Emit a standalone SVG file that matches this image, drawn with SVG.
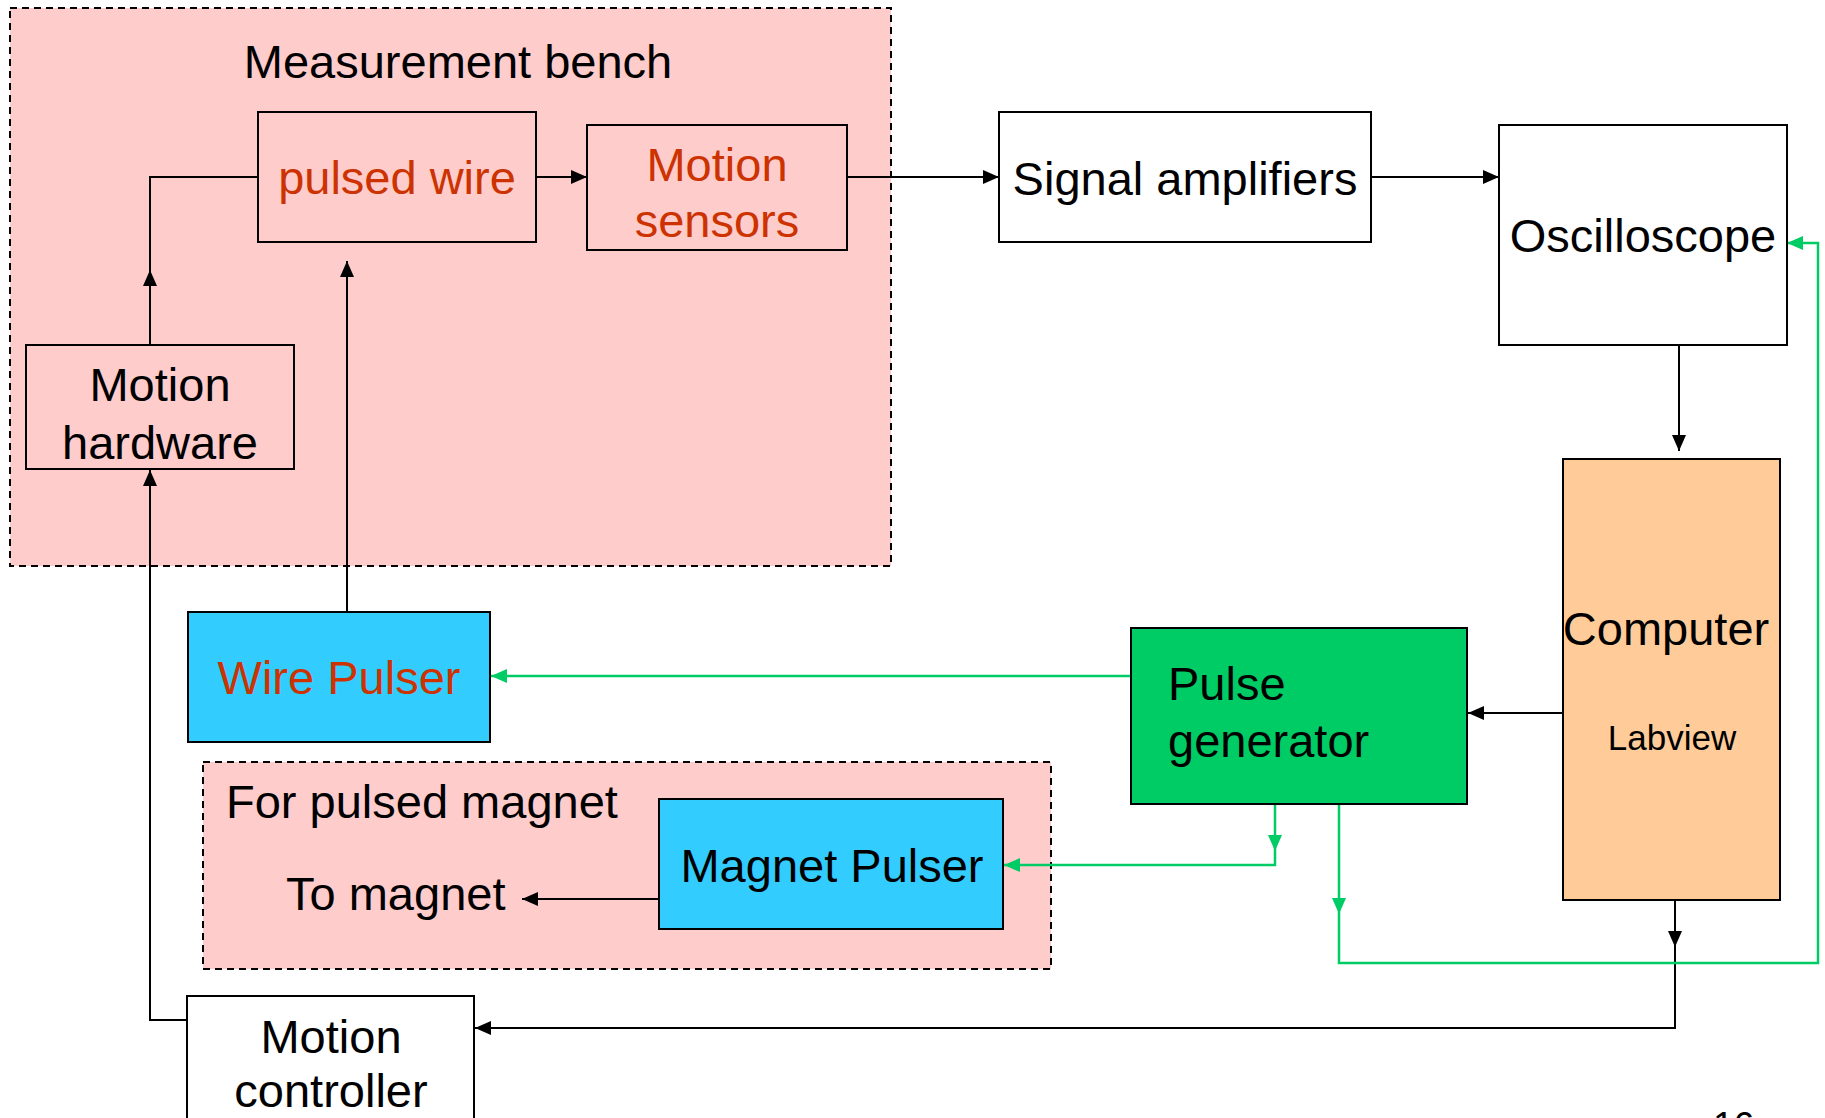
<svg xmlns="http://www.w3.org/2000/svg" width="1825" height="1118" viewBox="0 0 1825 1118">
<style>
text{font-family:"Liberation Sans",Arial,sans-serif;font-size:47px;fill:#000}
.red{fill:#CC3300}
.box{stroke:#000;stroke-width:2}
.grp{fill:#FFCCCC;stroke:#000;stroke-width:2;stroke-dasharray:7 5}
.blk{fill:none;stroke:#000;stroke-width:2}
.grn{fill:none;stroke:#00CC66;stroke-width:2.5}
</style>
<defs>
<marker id="ab" markerUnits="userSpaceOnUse" markerWidth="16" markerHeight="14" refX="16" refY="7" orient="auto"><path d="M0,0 L16,7 L0,14 z" fill="#000"/></marker>
<marker id="ag" markerUnits="userSpaceOnUse" markerWidth="16" markerHeight="14" refX="16" refY="7" orient="auto"><path d="M0,0 L16,7 L0,14 z" fill="#00CC66"/></marker>
</defs>
<rect width="1825" height="1118" fill="#fff"/>
<g id="measurement-bench">
<rect class="grp" x="10" y="8" width="881" height="558"/>
<text x="458" y="78" text-anchor="middle">Measurement bench</text>
</g>
<g id="pulsed-magnet-group">
<rect class="grp" x="203" y="762" width="848" height="207"/>
<text x="226" y="818">For pulsed magnet</text>
<text x="286" y="910">To magnet</text>
</g>
<g id="connectors">
<path class="blk" d="M150,345 V270" marker-end="url(#ab)"/>
<path class="blk" d="M150,270 V177 H258"/>
<path class="blk" d="M536,177 H587" marker-end="url(#ab)"/>
<path class="blk" d="M347,612 V261" marker-end="url(#ab)"/>
<path class="blk" d="M187,1020 H150 V470" marker-end="url(#ab)"/>
<path class="blk" d="M847,177 H999" marker-end="url(#ab)"/>
<path class="blk" d="M1371,177 H1499" marker-end="url(#ab)"/>
<path class="blk" d="M1679,345 V451" marker-end="url(#ab)"/>
<path class="blk" d="M1563,713 H1468" marker-end="url(#ab)"/>
<path class="blk" d="M1675,900 V947" marker-end="url(#ab)"/>
<path class="blk" d="M1675,946 V1028 H475" marker-end="url(#ab)"/>
<path class="blk" d="M659,899 H522" marker-end="url(#ab)"/>
<path class="grn" d="M1130,676 H491" marker-end="url(#ag)"/>
<path class="grn" d="M1275,804 V851" marker-end="url(#ag)"/>
<path class="grn" d="M1275,851 V865 H1004" marker-end="url(#ag)"/>
<path class="grn" d="M1339,804 V914" marker-end="url(#ag)"/>
<path class="grn" d="M1339,914 V963 H1818 V243 H1787" marker-end="url(#ag)"/>
</g>
<g id="pulsed-wire">
<rect class="box" x="258" y="112" width="278" height="130" fill="#FFCCCC"/>
<text class="red" x="397" y="194" text-anchor="middle">pulsed wire</text>
</g>
<g id="motion-sensors">
<rect class="box" x="587" y="125" width="260" height="125" fill="#FFCCCC"/>
<text class="red" x="717" y="181" text-anchor="middle">Motion</text>
<text class="red" x="717" y="237" text-anchor="middle">sensors</text>
</g>
<g id="motion-hardware">
<rect class="box" x="26" y="345" width="268" height="124" fill="#FFCCCC"/>
<text x="160" y="401" text-anchor="middle">Motion</text>
<text x="160" y="459" text-anchor="middle">hardware</text>
</g>
<g id="signal-amplifiers">
<rect class="box" x="999" y="112" width="372" height="130" fill="#fff"/>
<text x="1185" y="195" text-anchor="middle">Signal amplifiers</text>
</g>
<g id="oscilloscope">
<rect class="box" x="1499" y="125" width="288" height="220" fill="#fff"/>
<text x="1643" y="252" text-anchor="middle">Oscilloscope</text>
</g>
<g id="computer">
<rect class="box" x="1563" y="459" width="217" height="441" fill="#FFCC99"/>
<text x="1666" y="645" text-anchor="middle">Computer</text>
<text x="1672" y="750" text-anchor="middle" style="font-size:35px">Labview</text>
</g>
<g id="pulse-generator">
<rect class="box" x="1131" y="628" width="336" height="176" fill="#00CC66"/>
<text x="1168" y="700">Pulse</text>
<text x="1168" y="757">generator</text>
</g>
<g id="wire-pulser">
<rect class="box" x="188" y="612" width="302" height="130" fill="#33CCFF"/>
<text class="red" x="339" y="694" text-anchor="middle">Wire Pulser</text>
</g>
<g id="magnet-pulser">
<rect class="box" x="659" y="799" width="344" height="130" fill="#33CCFF"/>
<text x="832" y="882" text-anchor="middle">Magnet Pulser</text>
</g>
<g id="motion-controller">
<rect class="box" x="187" y="996" width="287" height="140" fill="#fff"/>
<text x="331" y="1053" text-anchor="middle">Motion</text>
<text x="331" y="1107" text-anchor="middle">controller</text>
</g>
<text x="1713" y="1138" style="font-size:37px">16</text>
</svg>
